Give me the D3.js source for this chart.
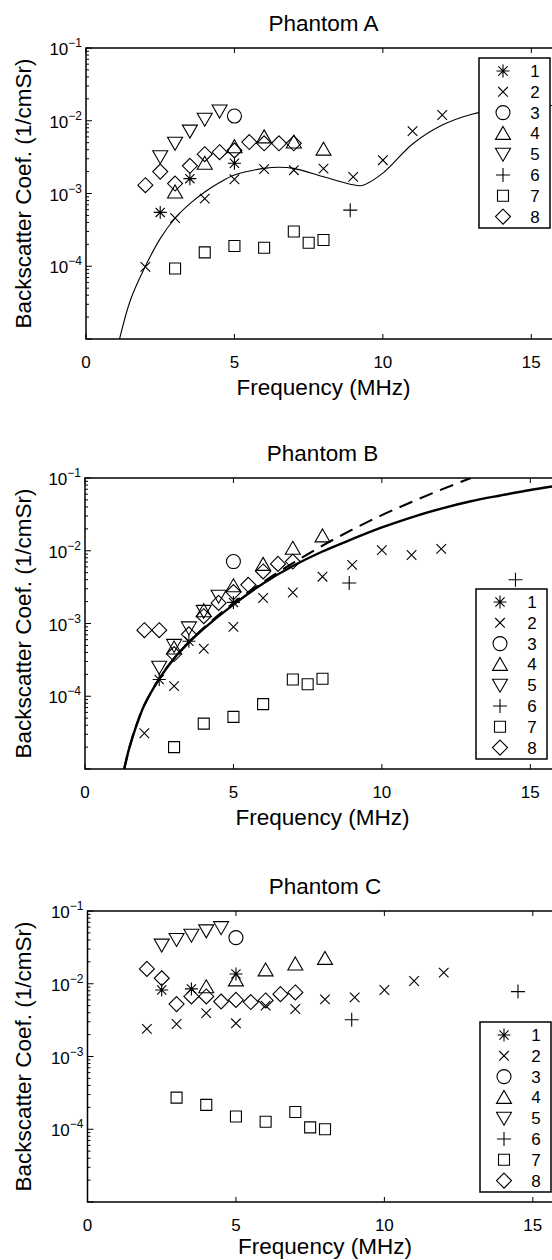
<!DOCTYPE html>
<html>
<head>
<meta charset="utf-8">
<script src="https://cdn.jsdelivr.net/npm/d3@7"></script>
<style>
  body { margin: 0; background: #fff; }
  svg { display: block; font-family: "Liberation Sans", Arial, sans-serif; }
</style>
</head>
<body>
<script>
// ---- data: [frequency MHz, backscatter coef 1/cmSr] ----
const seriesNames = ["1", "2", "3", "4", "5", "6", "7", "8"];
const xTicks = [0, 5, 10, 15];
const yTicks = [1e-4, 1e-3, 1e-2, 1e-1];
const yTickExp = ["\u22124", "\u22123", "\u22122", "\u22121"];

const phantomA = [
  [[2.5, 5.5e-4], [3.5, 1.6e-3], [5, 2.6e-3]],
  [[2, 9.8e-5], [3, 4.6e-4], [4, 8.5e-4], [5, 1.57e-3], [6, 2.16e-3], [7, 2.09e-3],
   [8, 2.2e-3], [9, 1.69e-3], [10, 2.87e-3], [11, 7.2e-3], [12, 1.2e-2]],
  [[5, 1.16e-2]],
  [[3, 1.05e-3], [4, 2.6e-3], [5, 4.4e-3], [6, 6.0e-3], [7, 5.1e-3], [8, 4.07e-3]],
  [[2.5, 3.2e-3], [3, 4.9e-3], [3.5, 7.2e-3], [4, 1.05e-2], [4.5, 1.36e-2]],
  [[8.9, 5.9e-4]],
  [[3, 9.3e-5], [4, 1.55e-4], [5, 1.9e-4], [6, 1.8e-4], [7, 3.0e-4], [7.5, 2.1e-4], [8, 2.3e-4]],
  [[2, 1.3e-3], [2.5, 2.0e-3], [3, 1.37e-3], [3.5, 2.4e-3], [4, 3.47e-3], [4.5, 3.7e-3],
   [5, 3.9e-3], [5.5, 5.1e-3], [6, 4.9e-3], [6.5, 4.9e-3], [7, 4.9e-3]]
];

const phantomB = [
  [[2.5, 1.7e-4], [3.5, 5.7e-4], [5, 1.95e-3]],
  [[2, 3.1e-5], [3, 1.38e-4], [4, 4.5e-4], [5, 9.0e-4], [6, 2.24e-3], [7, 2.67e-3],
   [8, 4.4e-3], [9, 6.4e-3], [10, 1.02e-2], [11, 8.75e-3], [12, 1.06e-2]],
  [[5, 7.1e-3]],
  [[3, 4.6e-4], [4, 1.5e-3], [5, 3.3e-3], [6, 6.5e-3], [7, 1.08e-2], [8, 1.6e-2]],
  [[2.5, 2.5e-4], [3, 5.0e-4], [3.5, 8.7e-4], [4, 1.47e-3], [4.5, 2.37e-3]],
  [[8.9, 3.6e-3], [14.5, 4.0e-3]],
  [[3, 2.0e-5], [4, 4.2e-5], [5, 5.2e-5], [6, 7.8e-5], [7, 1.7e-4], [7.5, 1.46e-4], [8, 1.74e-4]],
  [[2, 8.1e-4], [2.5, 8.1e-4], [3, 3.8e-4], [3.5, 7.1e-4], [4, 1.26e-3], [4.5, 1.92e-3],
   [5, 2.7e-3], [5.5, 3.4e-3], [6, 5.2e-3], [6.5, 6.6e-3], [7, 7.1e-3]]
];

const phantomC = [
  [[2.5, 8.2e-3], [3.5, 8.5e-3], [5, 1.36e-2]],
  [[2, 2.4e-3], [3, 2.8e-3], [4, 3.95e-3], [5, 2.86e-3], [6, 5.0e-3], [7, 4.5e-3],
   [8, 6.1e-3], [9, 6.5e-3], [10, 8.2e-3], [11, 1.09e-2], [12, 1.42e-2]],
  [[5, 4.3e-2]],
  [[4, 9.1e-3], [5, 1.13e-2], [6, 1.55e-2], [7, 1.87e-2], [8, 2.23e-2]],
  [[2.5, 3.4e-2], [3, 4.06e-2], [3.5, 4.65e-2], [4, 5.33e-2], [4.5, 5.9e-2]],
  [[8.9, 3.2e-3], [14.5, 7.8e-3]],
  [[3, 2.72e-4], [4, 2.16e-4], [5, 1.5e-4], [6, 1.27e-4], [7, 1.73e-4], [7.5, 1.06e-4], [8, 1.0e-4]],
  [[2, 1.6e-2], [2.5, 1.19e-2], [3, 5.25e-3], [3.5, 6.7e-3], [4, 6.7e-3], [4.5, 5.7e-3],
   [5, 6.0e-3], [5.5, 5.6e-3], [6, 5.9e-3], [6.5, 7.2e-3], [7, 7.6e-3]]
];

// model curves (frequency, log10 of coefficient)
const curveA = [[1.13, -5], [1.5, -4.46], [2, -4.0], [2.5, -3.62], [3, -3.34], [3.5, -3.14],
  [4, -2.98], [4.5, -2.85], [5, -2.745], [6, -2.655], [6.5, -2.64], [7, -2.655], [8, -2.77],
  [9, -2.88], [9.3, -2.89], [10, -2.72], [11, -2.32], [12, -2.06], [13, -1.91],
  [14, -1.84], [15.7, -1.79]];
const curveBSolid = [[1.32, -5.0], [1.5, -4.70], [1.75, -4.38], [2, -4.12], [2.5, -3.76], [3, -3.48],
  [3.5, -3.26], [4, -3.07], [5, -2.74], [6, -2.45], [7, -2.21], [8, -2.01], [9, -1.84], [10, -1.68],
  [11, -1.54], [12, -1.42], [13, -1.32], [14, -1.24], [15, -1.165], [16, -1.10]];
const curveBDashed = [[1.32, -5.0], [1.5, -4.70], [1.75, -4.38], [2, -4.12], [2.5, -3.76], [3, -3.48],
  [3.5, -3.26], [4, -3.06], [5, -2.72], [6, -2.43], [7, -2.17], [8, -1.93], [9, -1.71], [10, -1.51],
  [11, -1.33], [12, -1.16], [13, -1.0]];

// ---- layout ----
const W = 552, H = 1260;
const plotH = 291, plotW = 475; // 0..16 MHz
const panels = [
  { title: "Phantom A", top: 48, left: 86, series: phantomA, legend: [479, 58], xlab: 56,
    curves: [{ pts: curveA, w: 1.1 }] },
  { title: "Phantom B", top: 478, left: 85, series: phantomB, legend: [476, 589], xlab: 56,
    curves: [{ pts: curveBSolid, w: 2.4 }, { pts: curveBDashed, w: 2.1, dash: "14,8" }] },
  { title: "Phantom C", top: 911, left: 87.5, series: phantomC, legend: [480, 1022], xlab: 52,
    curves: [] }
];

// marker shapes centred on 0,0
const markers = [
  g => g.append("path").attr("d", "M-6.5,0H6.5M0,-6.5V6.5M-4.6,-4.6L4.6,4.6M-4.6,4.6L4.6,-4.6"),
  g => g.append("path").attr("d", "M-4.8,-4.8L4.8,4.8M-4.8,4.8L4.8,-4.8"),
  g => g.append("circle").attr("r", 7),
  g => g.append("path").attr("d", "M0,-7L7.5,6L-7.5,6Z"),
  g => g.append("path").attr("d", "M0,7L7.5,-6L-7.5,-6Z"),
  g => g.append("path").attr("d", "M-7,0H7M0,-7V7"),
  g => g.append("path").attr("d", "M-5.5,-5.5H5.5V5.5H-5.5Z"),
  g => g.append("path").attr("d", "M0,-7.5L7.5,0L0,7.5L-7.5,0Z")
];

const svg = d3.select("body").append("svg").attr("width", W).attr("height", H);

panels.forEach((p, pi) => {
  const x = d3.scaleLinear().domain([0, 16]).range([p.left, p.left + plotW]);
  const y = d3.scaleLog().domain([1e-5, 1e-1]).range([p.top + plotH, p.top]);
  const g = svg.append("g");
  const clipId = "clip" + pi;

  g.append("clipPath").attr("id", clipId).append("rect")
    .attr("x", p.left).attr("y", p.top).attr("width", plotW).attr("height", plotH);

  // model curves
  p.curves.forEach(c => {
    g.append("path")
      .attr("clip-path", `url(#${clipId})`)
      .attr("fill", "none").attr("stroke", "#000")
      .attr("stroke-width", c.w)
      .attr("stroke-dasharray", c.dash || null)
      .attr("d", d3.line()
        .x(d => x(d[0]))
        .y(d => y(Math.pow(10, d[1])))
        .curve(d3.curveCatmullRom.alpha(0.5))(c.pts));
  });

  // data markers
  p.series.forEach((s, si) => {
    g.append("g").attr("fill", "none").attr("stroke", "#000").attr("stroke-width", 1.1)
      .selectAll("g").data(s).join("g")
      .attr("transform", d => `translate(${x(d[0])},${y(d[1])})`)
      .each(function () { markers[si](d3.select(this)); });
  });

  // frame
  g.append("rect").attr("x", p.left).attr("y", p.top).attr("width", plotW).attr("height", plotH)
    .attr("fill", "none").attr("stroke", "#000").attr("stroke-width", 1.5);

  // x ticks (inward, top and bottom)
  const axG = g.append("g").attr("stroke", "#000").attr("stroke-width", 1);
  xTicks.forEach(t => {
    axG.append("line").attr("x1", x(t)).attr("x2", x(t)).attr("y1", p.top + plotH).attr("y2", p.top + plotH - 5);
    axG.append("line").attr("x1", x(t)).attr("x2", x(t)).attr("y1", p.top).attr("y2", p.top + 5);
  });
  // y ticks: major + log minor
  for (let k = -5; k <= -1; k++) {
    const base = Math.pow(10, k);
    axG.append("line").attr("x1", p.left).attr("x2", p.left + 6).attr("y1", y(base)).attr("y2", y(base));
    if (k < -1) {
      for (let m = 2; m <= 9; m++) {
        const v = m * base;
        axG.append("line").attr("x1", p.left).attr("x2", p.left + 3).attr("y1", y(v)).attr("y2", y(v));
      }
    }
  }

  // tick labels
  g.append("g").attr("font-size", 17).attr("text-anchor", "middle")
    .selectAll("text").data(xTicks).join("text")
    .attr("x", d => x(d)).attr("y", p.top + plotH + 29).text(d => d);

  const yl = g.append("g").attr("font-size", 17).attr("text-anchor", "end")
    .selectAll("text").data(yTicks).join("text")
    .attr("x", p.left - 4).attr("y", d => y(d) + 7);
  yl.append("tspan").text("10");
  yl.append("tspan").attr("dy", -8).attr("font-size", 12).text((d, i) => yTickExp[i]);

  // titles and axis labels
  g.append("text").attr("x", p.left + plotW / 2).attr("y", p.top - 17)
    .attr("text-anchor", "middle").attr("font-size", 22.5).text(p.title);
  g.append("text").attr("x", p.left + plotW / 2).attr("y", p.top + plotH + p.xlab)
    .attr("text-anchor", "middle").attr("font-size", 22.5).text("Frequency (MHz)");
  g.append("text")
    .attr("transform", `translate(${31},${p.top + plotH / 2}) rotate(-90)`)
    .attr("text-anchor", "middle").attr("font-size", 22.5).text("Backscatter Coef. (1/cmSr)");

  // legend
  const [lx, ly] = p.legend;
  const lg = g.append("g").attr("transform", `translate(${lx},${ly})`);
  lg.append("rect").attr("width", 71).attr("height", 170)
    .attr("fill", "#fff").attr("stroke", "#000").attr("stroke-width", 1.5);
  seriesNames.forEach((name, si) => {
    const ry = 13 + si * 20.8;
    const mg = lg.append("g").attr("transform", `translate(24,${ry})`)
      .attr("fill", "none").attr("stroke", "#000").attr("stroke-width", 1.1);
    markers[si](mg);
    lg.append("text").attr("x", 56).attr("y", ry + 6).attr("text-anchor", "middle")
      .attr("font-size", 17).text(name);
  });
});
</script>
</body>
</html>
